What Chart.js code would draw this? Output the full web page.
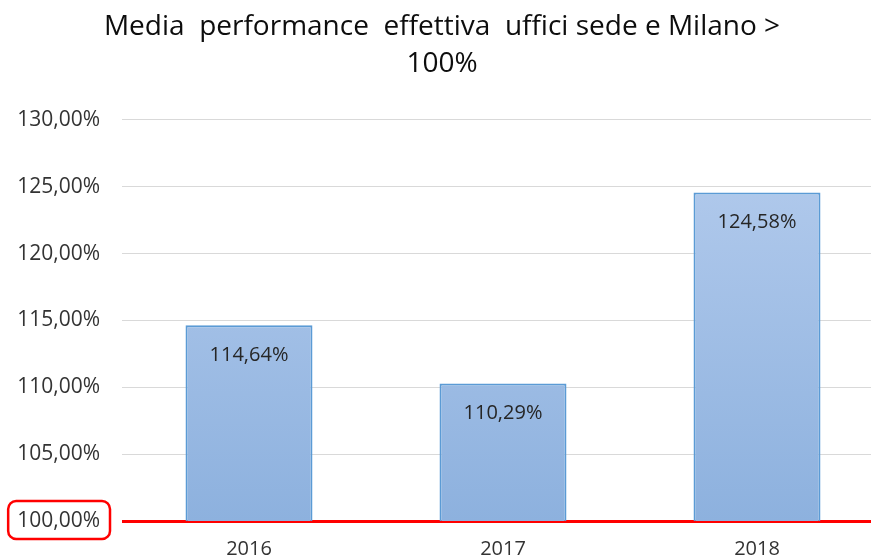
<!DOCTYPE html>
<html>
<head>
<meta charset="utf-8">
<script src="https://cdn.jsdelivr.net/npm/chart.js@4/dist/chart.umd.min.js"></script>
<style>
   html, body { margin: 0; padding: 0; background: #fff; overflow: hidden; }
   #wrap { width: 884px; height: 569px; }
</style>
</head>
<body>
<div id="wrap"><canvas id="chart"></canvas></div>
<script>
// dati
const anni = ["2016", "2017", "2018"];
const performance = [114.64, 110.29, 124.58];
const titolo = ["Media  performance  effettiva  uffici sede e Milano >", "100%"];
const asseMin = 100;
const asseMax = 130;
const assePasso = 5;

const FONT = "'Open Sans', sans-serif";

const formatPct = (v) => v.toFixed(2).replace(".", ",") + "%";

// etichette dentro le barre
const etichettePlugin = {
   id: "etichette",
   afterDatasetsDraw(chart) {
      const { ctx } = chart;
      const meta = chart.getDatasetMeta(0);
      ctx.save();
      ctx.font = "20px " + FONT;
      ctx.fillStyle = "#262626";
      ctx.textAlign = "center";
      ctx.textBaseline = "middle";
      meta.data.forEach((bar, i) => {
         ctx.fillText(formatPct(performance[i]), bar.x, bar.y + 30);
      });
      ctx.restore();
   },
};

// riquadro rosso attorno a 100,00%
const riquadroPlugin = {
   id: "riquadro",
   afterDraw(chart) {
      const { ctx } = chart;
      const y = chart.scales.y;
      const py = y.getPixelForValue(asseMin);
      ctx.save();
      ctx.font = "21px " + FONT;
      const w = ctx.measureText(formatPct(asseMin)).width;
      const right = y.right - 22 + 10;
      const left = right - w - 19;
      ctx.strokeStyle = "#ff0000";
      ctx.lineWidth = 2.5;
      ctx.beginPath();
      ctx.roundRect(left, py - 20, right - left, 38, 8);
      ctx.stroke();
      ctx.restore();
   },
};

const ctx = document.getElementById("chart").getContext("2d");

new Chart(ctx, {
   type: "bar",
   data: {
      labels: anni,
      datasets: [
         {
            data: performance,
            backgroundColor: (c) => {
               const area = c.chart.chartArea;
               if (!area) return "#a4c2e8";
               const g = c.chart.ctx.createLinearGradient(0, area.top, 0, area.bottom);
               g.addColorStop(0, "#b6cdee");
               g.addColorStop(1, "#8db1de");
               return g;
            },
            borderColor: "#5b9bd5",
            borderWidth: 2,
            borderSkipped: false,
            barPercentage: 0.5,
            categoryPercentage: 1,
         },
      ],
   },
   options: {
      responsive: true,
      maintainAspectRatio: false,
      animation: false,
      layout: { padding: { top: 4, left: 0, right: 0, bottom: 0 } },
      plugins: {
         legend: { display: false },
         tooltip: { enabled: false },
         title: {
            display: true,
            text: titolo,
            color: "#0d0d0d",
            font: { size: 28, family: FONT, weight: "normal", lineHeight: 1.32 },
            padding: { top: 5, bottom: 37 },
         },
      },
      scales: {
         x: {
            grid: { display: false },
            border: { display: false },
            ticks: {
               color: "#333333",
               font: { size: 20, family: FONT },
               padding: 8,
            },
         },
         y: {
            min: asseMin,
            max: asseMax,
            border: { display: false },
            afterFit: (s) => { s.width = 122; },
            grid: {
               color: (c) => (c.tick && c.tick.value === asseMin ? "#ff0000" : "#d9d9d9"),
               lineWidth: (c) => (c.tick && c.tick.value === asseMin ? 3 : 1),
               drawTicks: false,
            },
            ticks: {
               stepSize: assePasso,
               color: "#333333",
               padding: 22,
               font: { size: 21, family: FONT },
               callback: (v) => formatPct(v),
            },
         },
      },
   },
   plugins: [etichettePlugin, riquadroPlugin],
});
</script>
</body>
</html>
